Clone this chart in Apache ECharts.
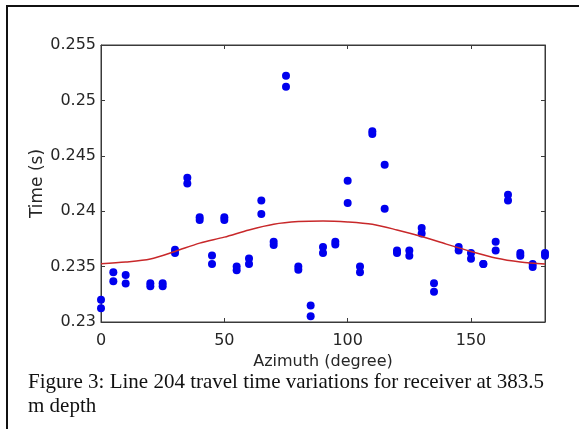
<!DOCTYPE html>
<html>
<head>
<meta charset="utf-8">
<script src="https://cdn.jsdelivr.net/npm/echarts@6/dist/echarts.min.js"></script>
<style>html,body{margin:0;padding:0;background:#fff;}#c{width:579px;height:429px;}</style>
</head>
<body>
<div id="c"></div>
<script>
// Azimuth (degree) of each measured pair
const azimuths = [0,5,10,20,25,30,35,40,45,50,55,60,65,70,75,80,85,90,95,100,105,110,115,120,125,130,135,145,150,155,160,165,170,175,180];
// upper and lower measured times (s) at each azimuth
const timesA = [0.2320,0.23449,0.23425,0.2335,0.2335,0.23652,0.24301,0.23945,0.23601,0.23945,0.23502,0.23574,0.24097,0.23724,0.25222,0.23502,0.2315,0.23676,0.23724,0.24274,0.2350,0.24722,0.2442,0.23646,0.23646,0.23849,0.2335,0.23676,0.23622,0.23523,0.23724,0.24148,0.23622,0.23523,0.23622];
const timesB = [0.23123,0.23368,0.23347,0.23323,0.23323,0.23622,0.2425,0.23921,0.23523,0.2392,0.23467,0.23523,0.23975,0.23694,0.25123,0.23472,0.23051,0.23622,0.2370,0.24074,0.23449,0.24696,0.24023,0.23622,0.23598,0.23798,0.23272,0.23646,0.23571,0.23523,0.23646,0.24097,0.23598,0.23496,0.23598];
// fitted curve
const fitAz = [0,10,20,30,40,50,60,70,80,90,100,110,120,130,140,150,160,170,180];
const fitTime = [0.23526,0.23541,0.23568,0.23637,0.23712,0.23766,0.23831,0.23882,0.23906,0.23912,0.23903,0.23882,0.23831,0.23772,0.23703,0.23637,0.23577,0.23541,0.23523];
const yTicks = ['0.23','0.235','0.24','0.245','0.25','0.255'];
const xTicks = ['0','50','100','150'];

const pts = [];
azimuths.forEach((a,i)=>{ pts.push([a,timesA[i]]); pts.push([a,timesB[i]]); });
const fit = fitAz.map((a,i)=>[a,fitTime[i]]);

const chart = echarts.init(document.getElementById('c'), null, {renderer:'canvas'});
const labelFont = {color:'#262626', fontFamily:'DejaVu Sans', fontSize:16};
const axisCol = '#3a3a3a';
chart.setOption({
  animation:false,
  backgroundColor:'#fff',
  grid:{left:101, top:45, right:34, bottom:107, show:true, borderColor:axisCol, borderWidth:1},
  xAxis:[{
    type:'value', min:0, max:180, interval:50, position:'bottom',
    splitLine:{show:false},
    axisLine:{show:true, onZero:false, lineStyle:{color:axisCol}},
    axisTick:{show:true, inside:true, length:4, lineStyle:{color:axisCol}},
    axisLabel:Object.assign({margin:11, formatter:v=>{const s=String(v); return xTicks.indexOf(s)>=0?s:'';}}, labelFont),
    name:'Azimuth (degree)', nameLocation:'middle', nameGap:28,
    nameTextStyle:{color:'#262626', fontFamily:'DejaVu Sans', fontSize:16}
  },{
    type:'value', min:0, max:180, interval:50, position:'top',
    splitLine:{show:false},
    axisLine:{show:true, onZero:false, lineStyle:{color:axisCol}},
    axisTick:{show:true, inside:true, length:4, lineStyle:{color:axisCol}},
    axisLabel:{show:false}
  }],
  yAxis:[{
    type:'value', min:0.23, max:0.255, interval:0.005, position:'left',
    splitLine:{show:false},
    axisLine:{show:true, onZero:false, lineStyle:{color:axisCol}},
    axisTick:{show:true, inside:true, length:4, lineStyle:{color:axisCol}},
    axisLabel:Object.assign({margin:5, formatter:v=>{const s=String(+v.toFixed(3)); return yTicks.indexOf(s)>=0?s:'';}}, labelFont),
    name:'Time (s)', nameLocation:'middle', nameGap:55, nameRotate:90, nameMoveOverlap:false,
    nameTextStyle:{color:'#262626', fontFamily:'DejaVu Sans', fontSize:17}
  },{
    type:'value', min:0.23, max:0.255, interval:0.005, position:'right',
    splitLine:{show:false},
    axisLine:{show:true, onZero:false, lineStyle:{color:axisCol}},
    axisTick:{show:true, inside:true, length:4, lineStyle:{color:axisCol}},
    axisLabel:{show:false}
  }],
  series:[{
    type:'scatter', data:pts, symbol:'circle', symbolSize:8,
    itemStyle:{color:'#0000ee', opacity:1}, xAxisIndex:0, yAxisIndex:0
  },{
    type:'line', data:fit, smooth:0.3, showSymbol:false,
    lineStyle:{color:'#c8282a', width:1.5}, xAxisIndex:0, yAxisIndex:0
  }],
  graphic:[
    {type:'rect', shape:{x:7, y:6, width:620, height:460}, style:{fill:null, stroke:'#111', lineWidth:2}, silent:true},
    {type:'text', left:28, top:372, style:{text:'Figure 3: Line 204 travel time variations for receiver at 383.5', font:'21px "Liberation Serif"', fill:'#111'}},
    {type:'text', left:28, top:396, style:{text:'m depth', font:'21px "Liberation Serif"', fill:'#111'}}
  ]
});
</script>
</body>
</html>
